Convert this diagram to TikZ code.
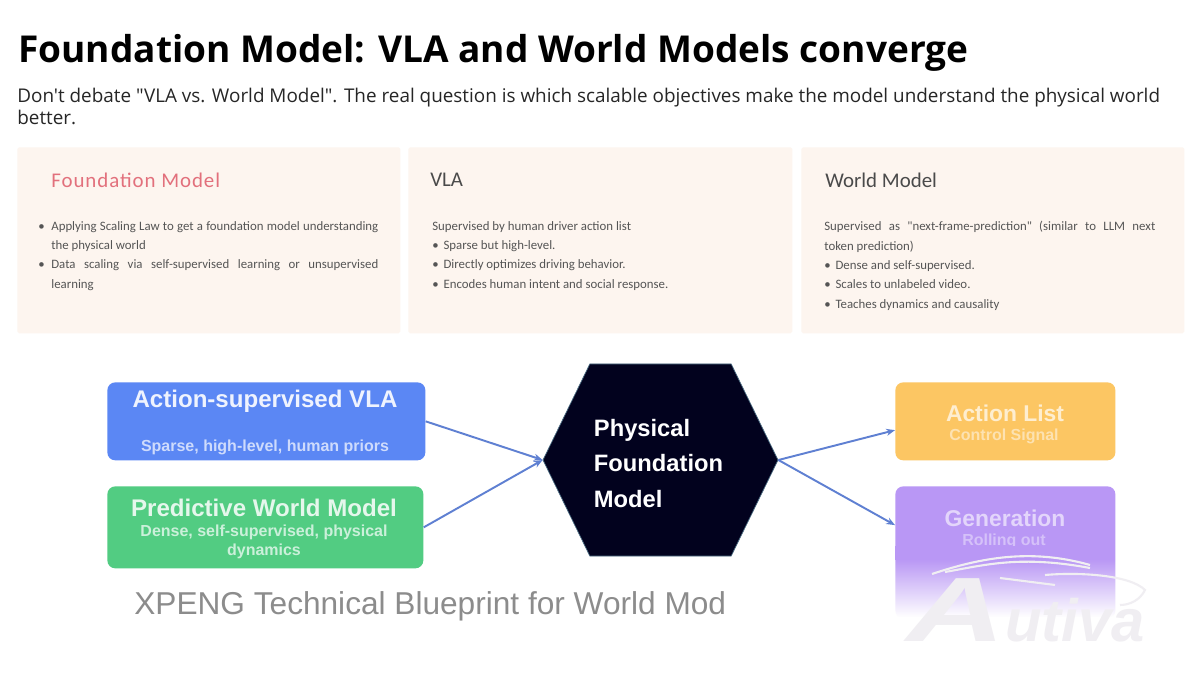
\documentclass[tikz,border=0pt]{standalone}
\usepackage{fontspec}
\setmainfont[Ligatures=TeXOff]{Open Sans}
\newfontfamily\cardfont{Carlito}
\newfontfamily\boxfont{Liberation Sans}
\usetikzlibrary{shapes.symbols,fadings,arrows.meta}
\definecolor{cardbg}{HTML}{FDF5EF}
\definecolor{cardred}{HTML}{E2707C}
\definecolor{cardgray}{HTML}{4A4A4A}
\definecolor{bodygray}{HTML}{555555}
\definecolor{vlablue}{HTML}{5B87F4}
\definecolor{wmgreen}{HTML}{52CC82}
\definecolor{actorange}{HTML}{FCC663}
\definecolor{genpurple}{HTML}{B997F5}
\definecolor{hexnavy}{HTML}{02021E}
\definecolor{linkblue}{HTML}{5F80D2}
\definecolor{markgray}{HTML}{F0EEF2}
\tikzfading[name=fade down, top color=transparent!100, bottom color=transparent!0]
\newcommand{\bulletline}[2][6.4pt]{\hangindent=#1\hangafter=1\noindent\makebox[#1][l]{\textbullet}#2\par}
\begin{document}
\begin{tikzpicture}[
  x=0.02cm, y=-0.02cm,
  card/.style={rectangle, fill=cardbg, anchor=north west, inner sep=0pt, rounded corners=1pt},
  cardhdr/.style={anchor=west, inner sep=0pt, font=\cardfont\fontsize{11.9}{14}\selectfont},
  cardtxt/.style={anchor=north west, inner sep=0pt, align=justify,
    font=\cardfont\fontsize{7.3}{11}\selectfont, text=bodygray,
    execute at begin node={\lefthyphenmin=64\relax}},
  blk/.style={rectangle, rounded corners=4.5pt, anchor=north west, inner sep=0pt},
  blkhdr/.style={inner sep=0pt, font=\boxfont\bfseries\fontsize{13}{15}\selectfont},
  blkhdrl/.style={inner sep=0pt, font=\boxfont\bfseries\fontsize{13.7}{15}\selectfont},
  blksub/.style={inner sep=0pt, align=center, font=\boxfont\bfseries\fontsize{9.1}{11}\selectfont},
  link/.style={draw=linkblue, line width=1.1pt, -{Stealth[length=5pt,width=4pt]}},
  logoline/.style={draw=markgray, line width=1.2pt},
]
\useasboundingbox (0,0) rectangle (1200,675);
\fill[white] (0,0) rectangle (1200,675);

% Heading
\node[anchor=west, inner sep=0pt, font=\bfseries\fontsize{21.08}{25}\selectfont] (title) at (18,53)
  {Foundation Model: VLA and World Models converge};
\node[anchor=north west, inner sep=0pt, align=left, text=black!85, font=\fontsize{10.75}{12.5}\selectfont] (lead) at (17,88)
  {Don't debate "VLA vs. World Model". The real question is which scalable objectives make the model understand the physical world\\better.};

% Cards
\node[card, minimum width=383*0.02cm, minimum height=186*0.02cm] (cardfm) at (17,147) {};
\node[card, minimum width=384*0.02cm, minimum height=186*0.02cm] (cardvla) at (408,147) {};
\node[card, minimum width=383*0.02cm, minimum height=186*0.02cm] (cardwm) at (801,147) {};

\node[cardhdr, text=cardred] (hdrfm) at (51,180) {\addfontfeature{LetterSpace=4.5}Foundation Model};
\node[cardhdr, text=cardgray] (hdrvla) at (430,180) {VLA};
\node[cardhdr, text=cardgray] (hdrwm) at (825,180) {World Model};

\node[cardtxt, text width=340*0.02cm] (txtfm) at (38,221) {%
  \bulletline[7.4pt]{Applying Scaling Law to get a foundation model understanding the physical world}
  \bulletline[7.4pt]{Data scaling via self-supervised learning or unsupervised learning}};
\node[cardtxt, text width=340*0.02cm] (txtvla) at (432,221) {%
  \noindent Supervised by human driver action list\par
  \bulletline{Sparse but high-level.}
  \bulletline{Directly optimizes driving behavior.}
  \bulletline{Encodes human intent and social response.}};
\node[cardtxt, text width=331*0.02cm] (txtwm) at (824,221) {%
  \noindent Supervised as "next-frame-prediction" (similar to LLM next\linebreak token prediction)\par
  \bulletline{Dense and self-supervised.}
  \bulletline{Scales to unlabeled video.}
  \bulletline{Teaches dynamics and causality}};

% Input and output blocks
\node[blk, fill=vlablue, minimum width=318*0.02cm, minimum height=78*0.02cm] (vla) at (107,382) {};
\node[blk, fill=wmgreen, minimum width=316*0.02cm, minimum height=82*0.02cm] (wm) at (107,486) {};
\node[blk, fill=actorange, minimum width=220*0.02cm, minimum height=78*0.02cm] (act) at (895,382) {};
\node[blk, fill=genpurple, minimum width=220*0.02cm, minimum height=132*0.02cm] (gen) at (895,486) {};

\node[blkhdrl, text=white!90!vlablue] (vlahdr) at (265,401) {Action-supervised VLA};
\node[blksub, text=white!70!vlablue] (vlasub) at (265,447) {Sparse, high-level, human priors};
\node[blkhdrl, text=white!85!wmgreen] (wmhdr) at (264,508) {Predictive World Model};
\node[blksub, text=white!70!wmgreen] (wmsub) at (264,542) {Dense, self-supervised, physical\\dynamics};
\node[blkhdr, text=white!70!actorange] (acthdr) at (1005,413) {Action List};
\node[blksub, text=white!50!actorange] (actsub) at (1004,436) {Control Signal};
\node[blkhdr, text=white!60!genpurple] (genhdr) at (1005,518) {Generation};
\node[blksub, text=white!40!genpurple] (gensub) at (1004,541) {Rolling out};

% Bottom of the output blocks washes out
\fill[genpurple] (895,546) rectangle (1115,560);
\fill[white, path fading=fade down] (880,559) rectangle (1170,617);
\fill[white] (880,617) rectangle (1170,625);

% Centre hexagon
\node[signal, signal to=west and east, signal pointer angle=128, fill=hexnavy,
  draw=cyan!40!hexnavy, line width=0.4pt, inner sep=0pt,
  minimum width=235*0.02cm, minimum height=192*0.02cm] (phys) at (660.5,460) {};
\node[inner sep=0pt, text=white, align=left,
  font=\boxfont\bfseries\fontsize{13.5}{20.3}\selectfont] (physlabel) at (658.5,463.5)
  {Physical\\Foundation\\Model};

% Connectors
\draw[link] (vla.east) -- (phys.west);
\draw[link] (wm.east) -- (phys.west);
\draw[link] (phys.east) -- ([yshift=-5pt]act.west);
\draw[link] (phys.east) -- ([yshift=15.5pt]gen.west);

% Caption
\node[anchor=west, inner sep=0pt, text=black!45, font=\boxfont\fontsize{18}{20}\selectfont] (caption) at (134,606)
  {XPENG Technical Blueprint for World Mod};

% Watermark
\draw[logoline] (932,574) .. controls (980,558) and (1030,548) .. (1090,565);
\draw[logoline] (945,572) .. controls (985,565) and (1020,555) .. (1090,568);
\draw[logoline] (1045,575) .. controls (1080,572) and (1130,575) .. (1145,590) .. controls (1140,600) and (1130,605) .. (1120,605);
\draw[logoline] (1000,578) -- (1055,585);
\node[anchor=south west, inner sep=0pt, text=markgray, font=\boxfont\bfseries\itshape] (autiva) at (906,642)
  {\fontsize{52}{52}\selectfont\scalebox{1.5}[1]{A}\fontsize{34}{34}\selectfont utiva};
\end{tikzpicture}
\end{document}
